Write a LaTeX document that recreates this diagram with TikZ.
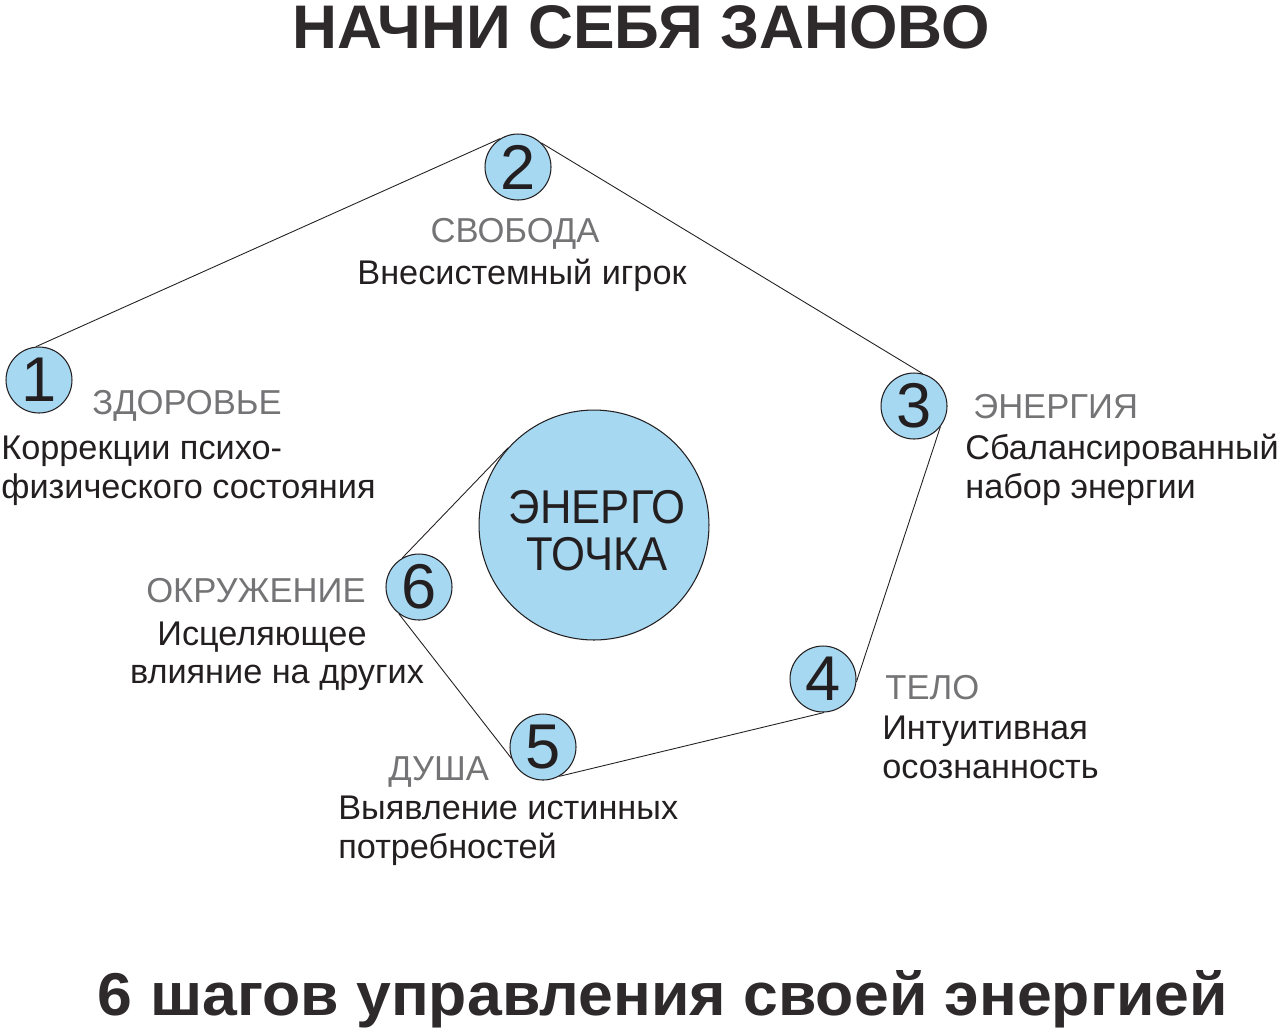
\documentclass[tikz,border=0pt]{standalone}
\usepackage{fontspec}
\setmainfont{Liberation Sans}
\usepackage{graphicx}
\usetikzlibrary{positioning}
\definecolor{circfill}{RGB}{166,216,241}
\definecolor{textgray}{RGB}{116,116,118}
\definecolor{textdark}{RGB}{35,31,32}

\begin{document}
\begin{tikzpicture}[x=0.02cm,y=-0.02cm,
    stepcircle/.style={circle,draw=textdark,line width=0.6pt,fill=circfill,
      minimum size=1.32cm,inner sep=0pt,text=textdark,
      font=\fontsize{36}{36}\selectfont},
    core/.style={circle,draw=textdark,line width=0.6pt,fill=circfill,
      minimum size=4.6cm,inner sep=0pt},
    coretext/.style={inner sep=0pt,text=textdark,align=center,
      font=\fontsize{27}{26.6}\selectfont},
    steptitle/.style={inner sep=0pt,text=textgray,font=\fontsize{19.7}{20}\selectfont},
    stepdesc/.style={inner sep=0pt,text=textdark,font=\fontsize{19.5}{20}\selectfont},
    link/.style={draw=textdark,line width=0.5pt}]
  % page size
  \useasboundingbox (0,0) rectangle (1280,1029);
  % headings
  \node[anchor=base,inner sep=0pt,text=textdark!95] (head) at (641,48)
    {\resizebox{13.94cm}{0.86cm}{\bfseries НАЧНИ СЕБЯ ЗАНОВО}};
  \node[anchor=base,inner sep=0pt,text=textdark!95] (foot) at (663,1015)
    {\resizebox{22.6cm}{0.9cm}{\bfseries 6 шагов управления своей энергией}};
  % the six steps and the centre
  \node[stepcircle] (s1) at (39,380) {1};
  \node[stepcircle] (s2) at (518,167) {2};
  \node[stepcircle] (s3) at (914,406) {3};
  \node[stepcircle] (s4) at (823,679) {4};
  \node[stepcircle] (s5) at (543,747) {5};
  \node[stepcircle] (s6) at (419,587) {6};
  \node[core] (core) at (594,525) {};
  \node[coretext] (corelabel) at (597,531)
    {\scalebox{0.92}[1]{ЭНЕРГО}\\\scalebox{0.92}[1]{ТОЧКА}};
  % connecting path
  \draw[link] (s1.95) -- (s2.122);
  \draw[link] (s2.46) -- (s3.75);
  \draw[link] (s3.-38) -- (s4.-5);
  \draw[link] (s4.-88) -- (s5.-61);
  \draw[link] (s5.200) -- (s6.233);
  \draw[link] (s6.120) -- (core.138);
  % step names
  \node[steptitle,anchor=base] (t2) at (515,242) {СВОБОДА};
  \node[steptitle,anchor=base west] (t1) at (92,414) {ЗДОРОВЬЕ};
  \node[steptitle,anchor=base west] (t3) at (973,418) {ЭНЕРГИЯ};
  \node[steptitle,anchor=base east] (t6) at (366,602) {ОКРУЖЕНИЕ};
  \node[steptitle,anchor=base west] (t4) at (885,699) {ТЕЛО};
  \node[steptitle,anchor=base west] (t5) at (388,780) {ДУША};
  % step descriptions
  \node[stepdesc,anchor=base] (d2) at (522,284) {Внесистемный игрок};
  \node[stepdesc,anchor=base west] (d1a) at (1,459) {Коррекции психо-};
  \node[stepdesc,anchor=base west] (d1b) at (1,498) {физического состояния};
  \node[stepdesc,anchor=base west] (d3a) at (965,459) {Сбалансированный};
  \node[stepdesc,anchor=base west] (d3b) at (965,498) {набор энергии};
  \node[stepdesc,anchor=base] (d6a) at (262,645) {Исцеляющее};
  \node[stepdesc,anchor=base] (d6b) at (277,683) {влияние на других};
  \node[stepdesc,anchor=base west] (d4a) at (882,739) {Интуитивная};
  \node[stepdesc,anchor=base west] (d4b) at (882,778) {осознанность};
  \node[stepdesc,anchor=base west] (d5a) at (338,819) {Выявление истинных};
  \node[stepdesc,anchor=base west] (d5b) at (338,858) {потребностей};
\end{tikzpicture}
\end{document}
